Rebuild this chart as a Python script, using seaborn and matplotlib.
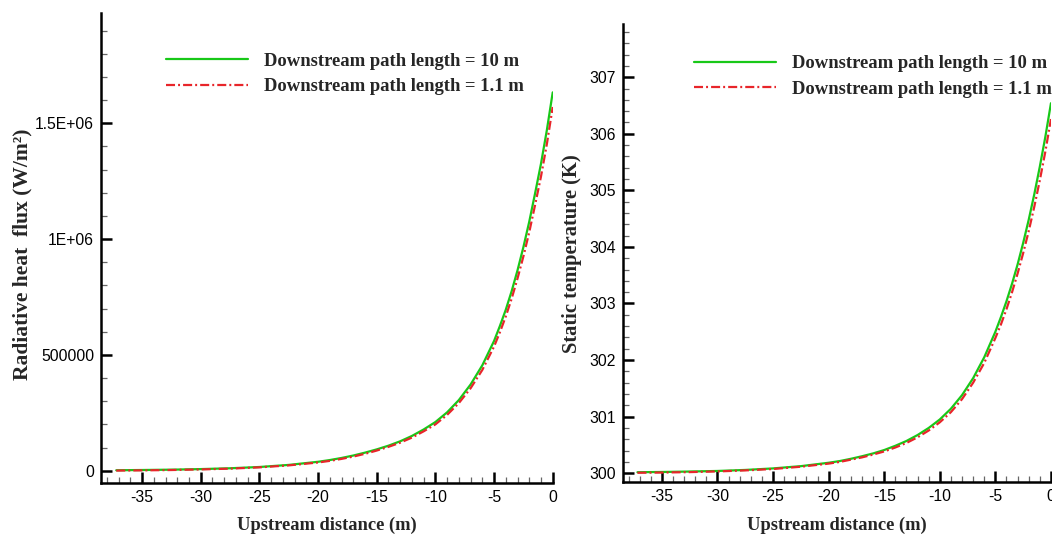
import numpy as np
import pandas as pd
import matplotlib
matplotlib.use("Agg")
import matplotlib.pyplot as plt
import seaborn as sns
from matplotlib.ticker import MultipleLocator, FixedLocator, FixedFormatter

# ---------------- data ----------------
x_pos = [-37.2, -35, -32.5, -30, -27.5, -25, -22.5, -20, -19, -18, -17, -16, -15, -14, -13,
         -12, -11, -10, -9, -8, -7, -6, -5, -4.5, -4, -3.5, -3, -2.5, -2, -1.5, -1, -0.5, 0]

flux_10m = [2e3, 3e3, 4.5e3, 7e3, 1.05e4, 1.6e4, 2.5e4, 3.85e4, 4.6e4, 5.5e4, 6.55e4, 7.8e4,
            9.2e4, 1.08e5, 1.27e5, 1.5e5, 1.78e5, 2.1e5, 2.52e5, 3.05e5, 3.72e5, 4.55e5,
            5.6e5, 6.25e5, 6.95e5, 7.75e5, 8.65e5, 9.65e5, 1.075e6, 1.198e6, 1.325e6,
            1.47e6, 1.633e6]
flux_1p1m = [0.5e3, 1.5e3, 3e3, 5.5e3, 9e3, 1.45e4, 2.3e4, 3.55e4, 4.25e4, 5.1e4, 6.1e4, 7.3e4,
             8.7e4, 1.03e5, 1.21e5, 1.43e5, 1.7e5, 2.0e5, 2.41e5, 2.92e5, 3.56e5, 4.35e5,
             5.36e5, 5.98e5, 6.66e5, 7.43e5, 8.3e5, 9.25e5, 1.03e6, 1.148e6, 1.27e6,
             1.41e6, 1.57e6]

temp_10m = [300.018, 300.022, 300.03, 300.04, 300.058, 300.085, 300.125, 300.185, 300.215,
            300.255, 300.30, 300.35, 300.41, 300.485, 300.57, 300.675, 300.80, 300.95,
            301.14, 301.38, 301.68, 302.05, 302.50, 302.76, 303.04, 303.35, 303.69, 304.07,
            304.48, 304.93, 305.42, 305.95, 306.54]
temp_1p1m = [300.008, 300.012, 300.02, 300.032, 300.05, 300.075, 300.115, 300.17, 300.20,
             300.24, 300.28, 300.33, 300.385, 300.455, 300.535, 300.635, 300.755, 300.90,
             301.08, 301.31, 301.60, 301.95, 302.39, 302.63, 302.90, 303.20, 303.53, 303.89,
             304.28, 304.71, 305.18, 305.69, 306.26]

series_labels = ["Downstream path length = 10 m", "Downstream path length = 1.1 m"]
flux_ticks = [0, 500000, 1000000, 1500000]
flux_ticklabels = ["0", "500000", "1E+06", "1.5E+06"]
temp_ticks = [300, 301, 302, 303, 304, 305, 306, 307]
x_ticks = [-35, -30, -25, -20, -15, -10, -5, 0]

# ---------------- style ----------------
sns.set_theme(style="ticks")
plt.rcParams["font.family"] = ["Liberation Sans", "DejaVu Sans"]
plt.rcParams["lines.scale_dashes"] = False
plt.rcParams["axes.unicode_minus"] = False

GREEN = "#18C818"
RED = "#E8252A"
DASHDOT = (0, (6.5, 2.2, 1.4, 2.2))
SERIF = ["Liberation Serif", "DejaVu Serif"]

fig = plt.figure(figsize=(10.52, 5.37), dpi=100)
ax1 = fig.add_axes([0.096, 0.1011, 0.4294, 0.8753])
ax2 = fig.add_axes([0.5922, 0.1019, 0.4068, 0.8534])

def make_df(y1, y2):
    return pd.DataFrame({
        "x": x_pos + x_pos,
        "y": list(y1) + list(y2),
        "series": [series_labels[0]] * len(x_pos) + [series_labels[1]] * len(x_pos),
    })

for ax, y1, y2 in [(ax1, flux_10m, flux_1p1m), (ax2, temp_10m, temp_1p1m)]:
    df = make_df(y1, y2)
    sns.lineplot(data=df[df.series == series_labels[0]], x="x", y="y", ax=ax,
                 color=GREEN, lw=1.6, label=series_labels[0])
    sns.lineplot(data=df[df.series == series_labels[1]], x="x", y="y", ax=ax,
                 color=RED, lw=1.6, linestyle=DASHDOT, label=series_labels[1])

def style_axis(ax):
    for s in ["top", "right"]:
        ax.spines[s].set_visible(False)
    for s in ["left", "bottom"]:
        ax.spines[s].set_linewidth(1.8)
        ax.spines[s].set_color("black")
    ax.tick_params(which="major", direction="in", length=8, width=1.8, colors="black",
                   labelsize=11.3, pad=5)
    ax.tick_params(which="minor", direction="in", length=4.5, width=0.9, color="#666666")
    ax.xaxis.set_major_locator(FixedLocator(x_ticks))
    ax.xaxis.set_minor_locator(MultipleLocator(1))
    ax.set_xlim(-38.5, 0)
    ax.set_xlabel("Upstream distance (m)", family=SERIF, weight="bold", size=13.3,
                  labelpad=9)
    ax.grid(False)

style_axis(ax1)
ax1.set_ylim(-51800, 1.977e6)
ax1.yaxis.set_major_locator(FixedLocator(flux_ticks))
ax1.yaxis.set_major_formatter(FixedFormatter(flux_ticklabels))
ax1.yaxis.set_minor_locator(MultipleLocator(100000))
ax1.set_ylabel("Radiative heat  flux (W/m²)", family=SERIF, weight="bold", size=15.5,
               labelpad=2)
ax1.yaxis.label.set_y(0.485)

style_axis(ax2)
ax2.set_ylim(299.84, 307.94)
ax2.yaxis.set_major_locator(FixedLocator(temp_ticks))
ax2.yaxis.set_minor_locator(MultipleLocator(0.2))
ax2.set_ylabel("Static temperature (K)", family=SERIF, weight="bold", size=14.8,
               labelpad=5)

leg_font = {"family": SERIF, "weight": "bold", "size": 13.4}
for ax, anchor in [(ax1, (0.144, 0.915)), (ax2, (0.167, 0.932))]:
    ax.legend(loc="upper left", bbox_to_anchor=anchor, frameon=False, prop=leg_font,
              handlelength=4.4, handletextpad=0.85, labelspacing=0.45, borderpad=0,
              borderaxespad=0)

fig.savefig("out.png", dpi=100, facecolor="white")
